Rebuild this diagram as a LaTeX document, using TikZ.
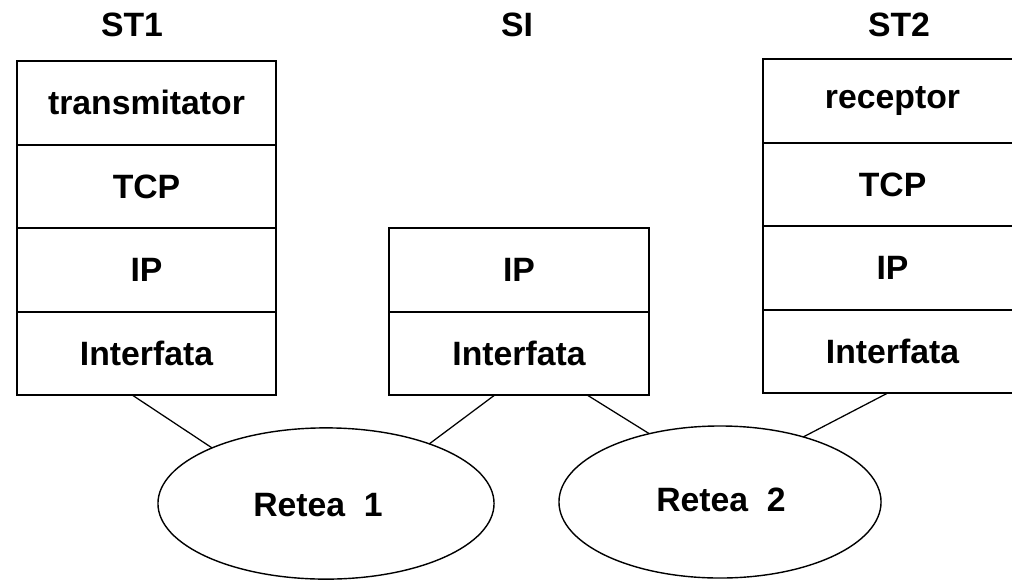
\documentclass[tikz,border=0pt]{standalone}
\usepackage{fontspec}
\setmainfont{Liberation Sans}
\usetikzlibrary{positioning,shapes.geometric}

\begin{document}
\begin{tikzpicture}[
  x=0.025cm, y=-0.025cm,
  node distance=0pt,
  layer/.style={rectangle, draw, line width=1.4pt, minimum width=6.475cm,
    minimum height=2.09cm, inner sep=0pt, outer sep=0pt},
  net/.style={ellipse, draw, line width=1pt, inner sep=0pt, outer sep=0pt},
  link/.style={draw, line width=0.9pt},
  font=\fontsize{24}{28}\selectfont\bfseries
]
  \useasboundingbox (0,0) rectangle (1012,580);

  % statia ST1
  \node (st1) at (132,25) {ST1};
  \node[layer] (trA) at (146.5,102.8) {transmitator};
  \node[layer] (tcpA) [below=of trA] {TCP};
  \node[layer] (ipA) [below=of tcpA] {IP};
  \node[layer] (ifA) [below=of ipA] {Interfata};

  % sistemul intermediar SI
  \node (si) at (517,25) {SI};
  \node[layer] (ipS) at (519,270) {IP};
  \node[layer] (ifS) [below=of ipS] {Interfata};

  % statia ST2
  \node (st2) at (899,25) {ST2};
  \node[layer] (rcB) at (892.5,100.8) {receptor};
  \node[layer] (tcpB) [below=of rcB] {TCP};
  \node[layer] (ipB) [below=of tcpB] {IP};
  \node[layer] (ifB) [below=of ipB] {Interfata};

  % retele
  \node[net, minimum width=8.4cm, minimum height=3.78cm] (net1) at (326,503.5) {};
  \node (lbl1) at (318,505) {Retea\ \ 1};
  \node[net, minimum width=8.05cm, minimum height=3.8cm] (net2) at (720,502) {};
  \node (lbl2) at (721,500) {Retea\ \ 2};

  \draw[link] ([xshift=-0.34cm]ifA.south) -- (net1.154);
  \draw[link] ([xshift=-0.62cm]ifS.south) -- (net1.30);
  \draw[link] ([xshift=1.72cm]ifS.south) -- (net2.136);
  \draw[link] ([xshift=-0.14cm]ifB.south) -- (net2.38);
\end{tikzpicture}
\end{document}
